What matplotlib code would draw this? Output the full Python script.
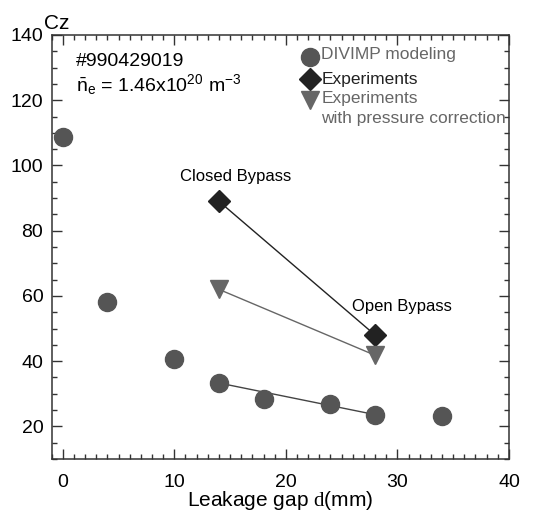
import matplotlib
matplotlib.use("Agg")
import matplotlib.pyplot as plt
from matplotlib.ticker import MultipleLocator

plt.rcParams['font.family'] = ['Liberation Sans', 'DejaVu Sans']
plt.rcParams['mathtext.fontset'] = 'custom'
plt.rcParams['mathtext.rm'] = 'Liberation Sans'
plt.rcParams['mathtext.it'] = 'Liberation Sans'
plt.rcParams['mathtext.bf'] = 'Liberation Sans:bold'
plt.rcParams['mathtext.sf'] = 'Liberation Serif'

# Data
divimp_gap = [0, 4, 10, 14, 18, 24, 28, 34]
divimp_cz = [108.8, 58.0, 40.7, 33.3, 28.4, 26.8, 23.6, 23.2]
exp_gap = [14, 28]
exp_cz = [89.0, 48.0]
expp_gap = [14, 28]
expp_cz = [62.0, 41.8]
fit_gap = [14, 28]
fit_cz = [33.3, 23.6]

c_div = '#555555'
c_exp = '#222222'
c_expp = '#666666'

fig = plt.figure(figsize=(5.38, 5.14), dpi=100)
ax = fig.add_axes([0.096, 0.107, 0.850, 0.825])

ax.plot(exp_gap, exp_cz, color=c_exp, lw=1.0, zorder=2)
ax.plot(expp_gap, expp_cz, color=c_expp, lw=1.0, zorder=2)
ax.plot(fit_gap, fit_cz, color='#444444', lw=1.0, zorder=2)

ax.plot(divimp_gap, divimp_cz, 'o', color=c_div, ms=13, ls='none', zorder=3)
ax.plot(exp_gap, exp_cz, 'D', color=c_exp, ms=11, ls='none', zorder=3)
ax.plot(expp_gap, expp_cz, 'v', color=c_expp, ms=13, ls='none', zorder=3)

ax.set_xlim(-1, 40)
ax.set_ylim(10, 140)
ax.xaxis.set_major_locator(MultipleLocator(10))
ax.xaxis.set_minor_locator(MultipleLocator(1))
ax.yaxis.set_major_locator(MultipleLocator(20))
ax.yaxis.set_minor_locator(MultipleLocator(5))
ax.tick_params(which='both', direction='in', top=True, right=True,
               color='#333333', width=1.0, labelsize=14)
ax.tick_params(axis='x', which='both', pad=10.5)
ax.tick_params(axis='y', which='both', pad=6)
ax.tick_params(which='major', length=7)
ax.tick_params(which='minor', length=3.5)
for s in ax.spines.values():
    s.set_color('#333333')
    s.set_linewidth(1.1)

ax.set_xlabel(r'Leakage gap $\mathsf{d}$(mm)', fontsize=15, labelpad=-1)
fig.text(0.106, 0.955, 'Cz', fontsize=15, ha='center', va='center')

ax.text(15.5, 96.5, 'Closed Bypass', fontsize=12, ha='center', va='center')
ax.text(25.95, 56.7, 'Open Bypass', fontsize=12, ha='left', va='center')

ax.text(0.053, 0.937, '#990429019', fontsize=14, transform=ax.transAxes,
        ha='left', va='center')
ax.text(0.053, 0.884, r'$\bar{n}_e$ = 1.46x10$^{20}$ m$^{-3}$', fontsize=14,
        transform=ax.transAxes, ha='left', va='center')

# Legend (manual)
leg_x_marker = 0.566
leg_x_text = 0.590
leg_fs = 12.5
ax.plot([leg_x_marker], [0.949], 'o', color=c_div, ms=13, transform=ax.transAxes, clip_on=False)
ax.text(leg_x_text, 0.955, 'DIVIMP modeling', color=c_expp, fontsize=leg_fs,
        transform=ax.transAxes, ha='left', va='center')
ax.plot([leg_x_marker], [0.895], 'D', color=c_exp, ms=11, transform=ax.transAxes, clip_on=False)
ax.text(leg_x_text, 0.894, 'Experiments', color=c_exp, fontsize=leg_fs,
        transform=ax.transAxes, ha='left', va='center')
ax.plot([leg_x_marker], [0.846], 'v', color=c_expp, ms=13, transform=ax.transAxes, clip_on=False)
ax.text(leg_x_text, 0.851, 'Experiments', color=c_expp, fontsize=leg_fs,
        transform=ax.transAxes, ha='left', va='center')
ax.text(leg_x_text, 0.804, 'with pressure correction', color=c_expp, fontsize=leg_fs,
        transform=ax.transAxes, ha='left', va='center')

fig.savefig('out.png', dpi=100)
